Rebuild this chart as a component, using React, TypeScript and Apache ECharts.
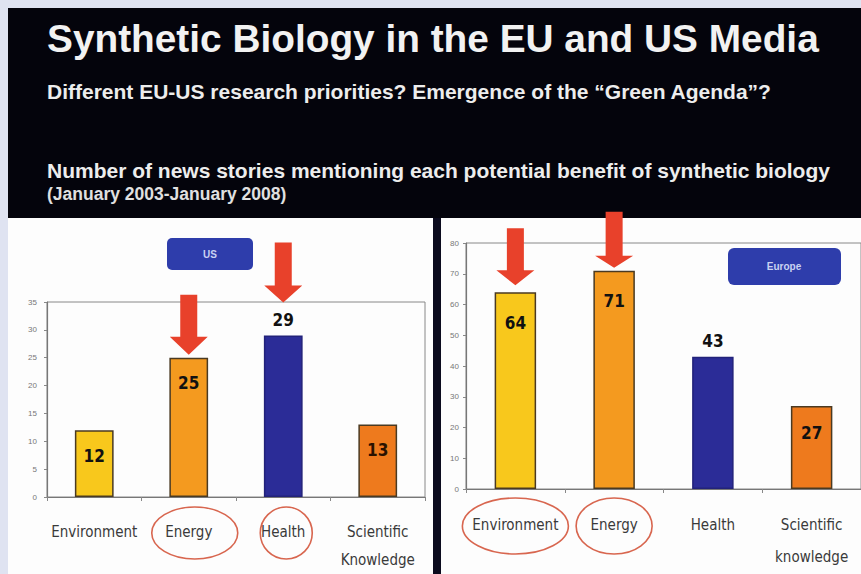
import React, { useEffect, useRef } from "react";
import * as echarts from "echarts";

const categoriesUS = ["Environment", "Energy", "Health", "Scientific\nKnowledge"];
const valuesUS = [12, 25, 29, 13];
const categoriesEU = ["Environment", "Energy", "Health", "Scientific\nknowledge"];
const valuesEU = [64, 71, 43, 27];
const barColors = ["#f8c81c", "#f49a1f", "#2b2c97", "#ee7a1d"];
const ticksUS = [0, 5, 10, 15, 20, 25, 30, 35];
const ticksEU = [0, 10, 20, 30, 40, 50, 60, 70, 80];
const titleText = "Synthetic Biology in the EU and US Media";
const subtitleText = "Different EU-US research priorities? Emergence of the \u201cGreen Agenda\u201d?";
const captionText = "Number of news stories mentioning each potential benefit of synthetic biology";
const periodText = "(January 2003-January 2008)";
// highlighted categories: [seriesIndex, categoryIndex]
const arrowsAt = [[0, 1], [0, 2], [1, 0], [1, 1]];
const circledAt = [[0, 1], [0, 2], [1, 0], [1, 1]];

const LABEL_FONT = '"DejaVu Sans Condensed", "Liberation Sans", sans-serif';
const MAIN_FONT = '"Liberation Sans", Arial, sans-serif';

export default function App() {
  const ref = useRef<HTMLDivElement>(null);
  useEffect(() => {
    document.body.style.margin = "0";
    const chart = echarts.init(ref.current!, null, { renderer: "svg" });

    const valueLabel = (pos: string, dist: number, color = "#111") => ({
      show: true,
      position: pos,
      distance: dist,
      fontFamily: LABEL_FONT,
      fontWeight: "bold",
      fontSize: 17,
      color,
    });

    const usData = valuesUS.map((v, i) => ({
      value: v,
      itemStyle: { color: barColors[i], borderColor: i === 2 ? "#22227a" : "#4a3a22", borderWidth: 1.5 },
      label: i === 2 ? valueLabel("top", 7) : valueLabel("insideTop", 17, i === 3 ? "#2a1200" : "#111"),
    }));
    const euData = valuesEU.map((v, i) => ({
      value: v,
      itemStyle: { color: barColors[i], borderColor: i === 2 ? "#22227a" : "#4a3a22", borderWidth: 1.5 },
      label: i === 2 ? valueLabel("top", 7) : valueLabel("insideTop", i === 3 ? 19 : 22),
    }));

    const yAxisCommon = {
      type: "value",
      axisLine: { show: true, lineStyle: { color: "#777", width: 1.2 } },
      axisTick: { show: true, length: 3, lineStyle: { color: "#888" } },
      splitLine: { show: false },
      axisLabel: { fontSize: 8, color: "#777", fontFamily: MAIN_FONT },
    };
    const xAxisCommon = {
      type: "category",
      axisLine: { show: true, lineStyle: { color: "#777", width: 1.2 } },
      axisTick: { show: true, length: 4, lineStyle: { color: "#888" } },
    };

    chart.setOption({
      animation: false,
      backgroundColor: "#dfe3f1",
      grid: [
        { left: 47, width: 378, top: 302, bottom: 77, show: true, borderColor: "#888", borderWidth: 1, backgroundColor: "transparent" },
        { left: 466, right: -12, top: 243, bottom: 85, show: true, borderColor: "#888", borderWidth: 1, backgroundColor: "transparent" },
      ],
      xAxis: [
        {
          ...xAxisCommon,
          gridIndex: 0,
          data: categoriesUS,
          axisLabel: { color: "#3a3a3a", fontSize: 15, fontFamily: LABEL_FONT, lineHeight: 28, margin: 21, interval: 0 },
        },
        {
          ...xAxisCommon,
          gridIndex: 1,
          data: categoriesEU,
          axisLabel: { color: "#3a3a3a", fontSize: 15, fontFamily: LABEL_FONT, lineHeight: 32, margin: 20, interval: 0 },
        },
      ],
      yAxis: [
        { ...yAxisCommon, gridIndex: 0, min: ticksUS[0], max: ticksUS[ticksUS.length - 1], interval: ticksUS[1] - ticksUS[0], axisLabel: { ...yAxisCommon.axisLabel, margin: 10 } },
        { ...yAxisCommon, gridIndex: 1, min: ticksEU[0], max: ticksEU[ticksEU.length - 1], interval: ticksEU[1] - ticksEU[0], axisLabel: { ...yAxisCommon.axisLabel, margin: 7 } },
      ],
      series: [
        { type: "bar", xAxisIndex: 0, yAxisIndex: 0, data: usData, barWidth: "41%", z: 3 },
        { type: "bar", xAxisIndex: 1, yAxisIndex: 1, data: euData, barWidth: "42%", z: 3 },
      ],
    });

    // annotations computed from the chart's own scales
    const seriesVals = [valuesUS, valuesEU];
    const arrowShape = [
      { gap: 3, len: 60, head: 18 },
      { gap: 33, len: 60, head: 17 },
      { gap: 7, len: 57, head: 15 },
      { gap: 3, len: 56, head: 12 },
    ];
    const arrows = arrowsAt.map(([s, c], k) => {
      const p = chart.convertToPixel({ seriesIndex: s }, [c, seriesVals[s][c]]) as number[];
      const { gap, len, head } = arrowShape[k];
      const tip = p[1] - gap;
      const top = tip - len;
      const hs = tip - head;
      const sw = 8.5;
      const hw = 19;
      const x = p[0];
      return {
        type: "polygon",
        z: 10,
        shape: {
          points: [
            [x - sw, top], [x + sw, top], [x + sw, hs], [x + hw, hs], [x, tip], [x - hw, hs], [x - sw, hs],
          ],
        },
        style: { fill: "#e8412b" },
      };
    });
    const ellipseSize = [
      { rx: 43, ry: 26, dy: 36, dx: 6 },
      { rx: 26, ry: 26, dy: 36, dx: 3 },
      { rx: 53, ry: 28, dy: 37, dx: 0 },
      { rx: 38, ry: 28, dy: 37, dx: 0 },
    ];
    const ellipses = circledAt.map(([s, c], k) => {
      const p = chart.convertToPixel({ seriesIndex: s }, [c, 0]) as number[];
      const { rx, ry, dy, dx } = ellipseSize[k];
      return {
        type: "ellipse",
        z: 10,
        shape: { cx: p[0] + dx, cy: p[1] + dy, rx, ry },
        style: { fill: "none", stroke: "#d8664f", lineWidth: 1.6 },
      };
    });

    chart.setOption({
      graphic: [
        { type: "rect", z: -10, shape: { x: 8, y: 8, width: 853, height: 210 }, style: { fill: "#04040c" } },
        { type: "rect", z: -10, shape: { x: 8, y: 218, width: 425, height: 356 }, style: { fill: "#fdfdfd" } },
        { type: "rect", z: -10, shape: { x: 433, y: 218, width: 8, height: 356 }, style: { fill: "#0b0b1e" } },
        { type: "rect", z: -10, shape: { x: 441, y: 218, width: 420, height: 356 }, style: { fill: "#fdfdfd" } },
        { type: "text", z: 5, x: 47, y: 38, style: { text: titleText, fill: "#f2f2f2", font: `bold 38.8px ${MAIN_FONT}`, textVerticalAlign: "middle" } },
        { type: "text", z: 5, x: 47, y: 91, style: { text: subtitleText, fill: "#ededed", font: `bold 21px ${MAIN_FONT}`, textVerticalAlign: "middle" } },
        { type: "text", z: 5, x: 47, y: 170, style: { text: captionText, fill: "#ededed", font: `bold 21px ${MAIN_FONT}`, textVerticalAlign: "middle" } },
        { type: "text", z: 5, x: 47, y: 194, style: { text: periodText, fill: "#e0e0e0", font: `bold 17.5px ${MAIN_FONT}`, textVerticalAlign: "middle" } },
        { type: "rect", z: 5, shape: { x: 167, y: 238, width: 86, height: 32, r: 5 }, style: { fill: "#2e3dab" } },
        { type: "text", z: 6, x: 210, y: 254, style: { text: "US", fill: "#c9d2f2", font: `bold 10px ${MAIN_FONT}`, textAlign: "center", textVerticalAlign: "middle" } },
        { type: "rect", z: 5, shape: { x: 728, y: 248, width: 113, height: 37, r: 6 }, style: { fill: "#2e3dab" } },
        { type: "text", z: 6, x: 784, y: 266, style: { text: "Europe", fill: "#c9d2f2", font: `bold 10px ${MAIN_FONT}`, textAlign: "center", textVerticalAlign: "middle" } },
        ...arrows,
        ...ellipses,
      ],
    });

    return () => chart.dispose();
  }, []);
  return <div ref={ref} style={{ width: 861, height: 574 }} />;
}
